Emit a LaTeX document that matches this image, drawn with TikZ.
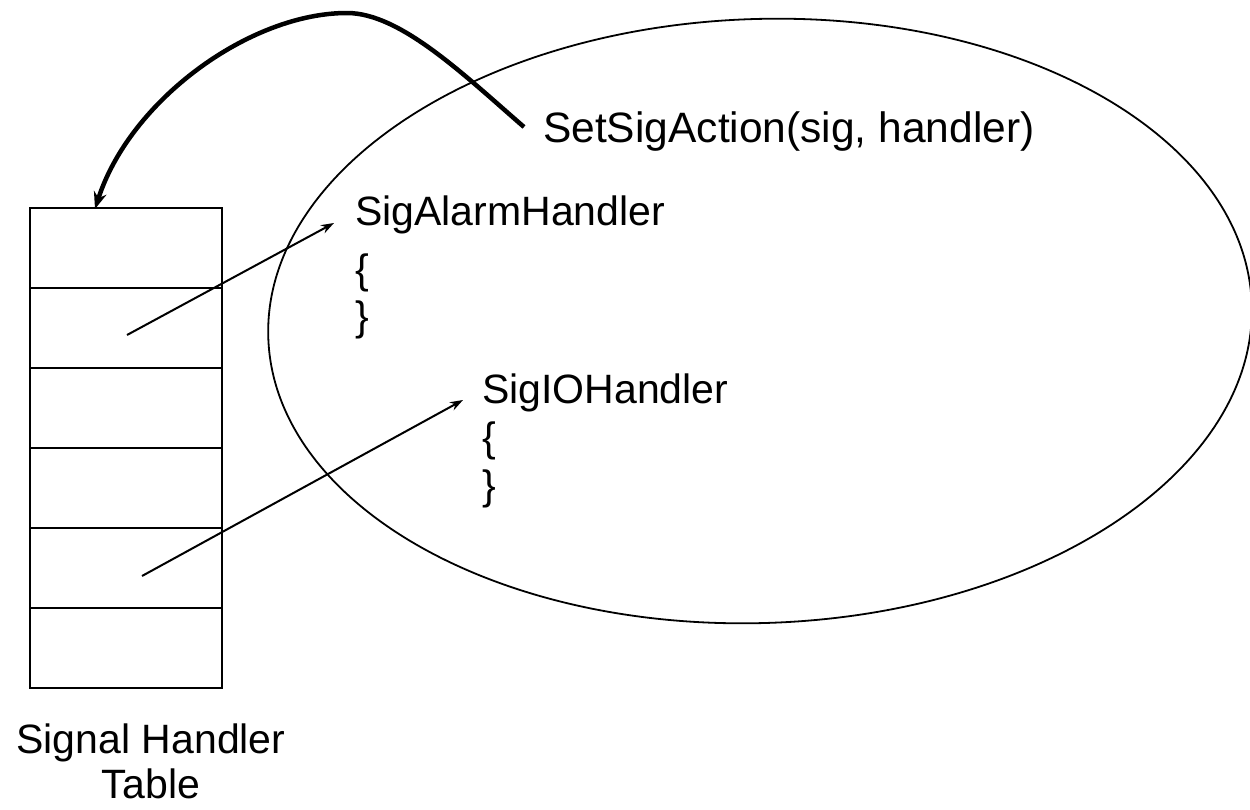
\documentclass[tikz,border=0pt]{standalone}
\usepackage{fontspec}
\setmainfont{Liberation Sans}
\usetikzlibrary{arrows.meta}
\begin{document}
\begin{tikzpicture}[x=1pt,y=-1pt,
  cell/.style={draw,line width=2pt,minimum width=192pt,minimum height=80pt,inner sep=0pt},
  lbl/.style={anchor=base west,inner sep=0pt,font=\fontsize{41}{47}\selectfont},
  caption/.style={anchor=base,inner sep=0pt,font=\fontsize{41}{47}\selectfont},
  ptr/.style={line width=2pt,-{Stealth[length=13pt,width=9pt]}},
  setarrow/.style={line width=4.5pt,-{Stealth[length=17pt,width=13pt]}}]
\clip (0,0) rectangle (1250,809);
\useasboundingbox (0,0) rectangle (1250,809);
% process ellipse
\draw[line width=1.8pt,rotate around={2:(760,321)}] (760,321) ellipse [x radius=492, y radius=302];
% table
\node[cell] (c1) at (126,248) {};
\node[cell] (c2) at (126,328) {};
\node[cell] (c3) at (126,408) {};
\node[cell] (c4) at (126,488) {};
\node[cell] (c5) at (126,568) {};
\node[cell] (c6) at (126,648) {};
\node[caption] (cap1) at (151,753) {Signal Handler};
\node[caption] (cap2) at (151,798) {Table};
% texts
\node[lbl,font=\fontsize{42.5}{47}\selectfont] (set) at (543,142) {SetSigAction(sig, handler)};
\node[lbl] (alarm) at (355,225) {SigAlarmHandler};
\node[lbl] (ab1) at (355,283) {\{};
\node[lbl] (ab2) at (355,330) {\}};
\node[lbl] (io) at (482,403) {SigIOHandler};
\node[lbl] (ib1) at (482,451) {\{};
\node[lbl] (ib2) at (482,499) {\}};
% connectors
\coordinate (p1) at (127,335);
\coordinate (p2) at (142,576);
\coordinate (t1) at (334,223);
\coordinate (t2) at (463,400);
\coordinate (s) at (524,127);
\coordinate (e) at (95,209);
\draw[ptr] (p1) -- (t1);
\draw[ptr] (p2) -- (t2);
\draw[setarrow] (s) .. controls (463,74) and (400,13) .. (347,13) .. controls (250,13) and (130,100) .. (e);
\end{tikzpicture}
\end{document}
